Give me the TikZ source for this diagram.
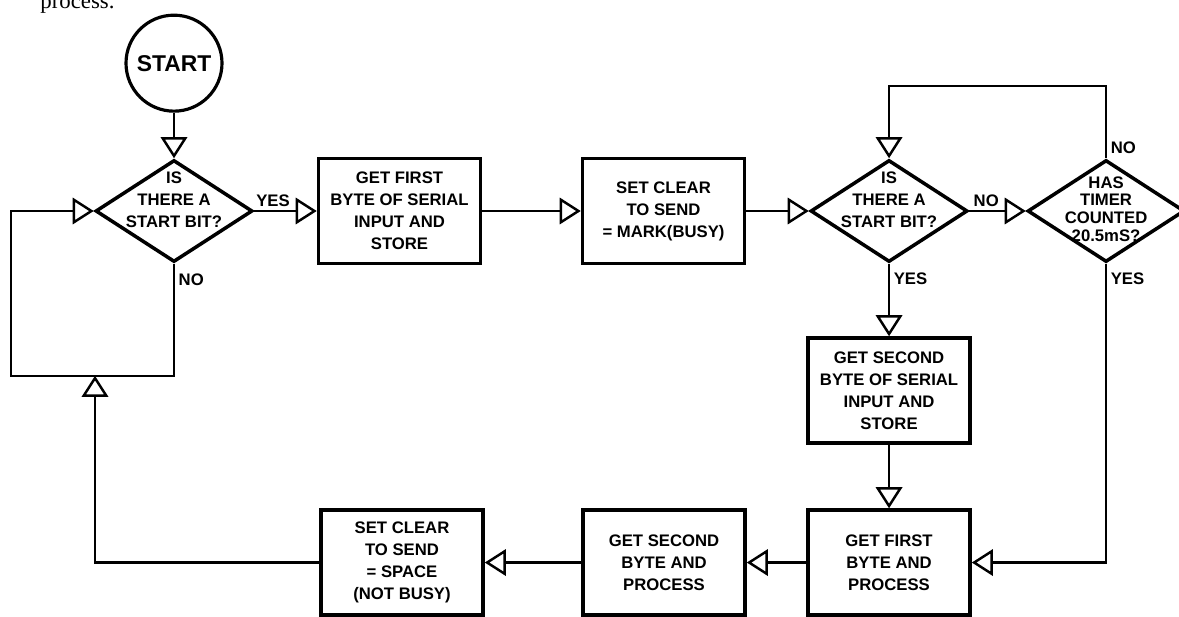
\documentclass[tikz,border=0pt]{standalone}
\usepackage{fontspec}
\setmainfont{Liberation Sans}
\newfontfamily\bodyserif{Liberation Serif}
\usetikzlibrary{shapes.geometric,calc,positioning,arrows.meta}

\begin{document}
\begin{tikzpicture}[
	every node/.style={font=\bfseries\fontsize{9.5}{12.5}\selectfont},
	procbox/.style={draw,rectangle,line width=2pt,minimum width=3.24cm,minimum height=2.1cm,inner sep=0pt,align=center},
	decide/.style={draw,diamond,line width=2pt,minimum width=3.14cm,minimum height=2.04cm,inner sep=0pt},
	terminal/.style={draw,circle,line width=1.8pt,minimum size=1.92cm,inner sep=0pt,font=\bfseries\fontsize{13}{15}\selectfont},
	asktext/.style={align=center,inner sep=0pt},
	answer/.style={inner sep=2pt},
	flow/.style={line width=1.4pt,-{Triangle[open,length=12pt,width=15pt]}}
	]
	
	\useasboundingbox (0,0) rectangle (23.58,-12.32);
	
	\node [anchor=base west,inner sep=0pt,font=\bodyserif\fontsize{13}{15}\selectfont] (page-text) at (0.8,-0.16) {process.};
	
	\coordinate (zero) at (3.48,-4.22);
	
	%%%%%%%%%%%%%%%%%%%%%%%%%%%%%%%%%%%%%%%%%%%%%%%%%%%%%%
	
	\node [decide,label={[asktext,yshift=0.22cm]center:{IS\\THERE A\\START BIT?}}] (ask-1) at (zero) {};
	\node [terminal,above=0.91cm of ask-1] (start) {START};
	
	\node [procbox,right=1.25cm of ask-1] (get-first-serial) {GET FIRST\\BYTE OF SERIAL\\INPUT AND\\STORE};
	\node [procbox,right=1.97cm of get-first-serial] (set-mark) {SET CLEAR\\TO SEND\\= MARK(BUSY)};
	
	\node [decide,right=1.25cm of set-mark,label={[asktext,yshift=0.22cm]center:{IS\\THERE A\\START BIT?}}] (ask-2) {};
	\node [decide,right=1.13cm of ask-2,label={[asktext,yshift=0.04cm,font=\bfseries\fontsize{9.5}{10}\selectfont]center:{HAS\\TIMER\\COUNTED\\20.5mS?}}] (timer-ask) {};
	
	%%%%%%%%%%%%%%%%%%%%%%%%%%%%%%%%%%%%%%%%%%%%%%%%%%%%%%
	
	\node [procbox,below=1.45cm of ask-2] (get-second-serial) {GET SECOND\\BYTE OF SERIAL\\INPUT AND\\STORE};
	\node [procbox,below=1.27cm of get-second-serial] (first-process) {GET FIRST\\BYTE AND\\PROCESS};
	\node [procbox,left=1.19cm of first-process] (second-process) {GET SECOND\\BYTE AND\\PROCESS};
	\node [procbox,left=1.93cm of second-process] (set-space) {SET CLEAR\\TO SEND\\= SPACE\\(NOT BUSY)};
	
	%%%%%%%%%%%%%%%%%%%%%%%%%%%%%%%%%%%%%%%%%%%%%%%%%%%%%%
	
	\draw [flow] (start) -- (ask-1);
	\draw [flow] (ask-1) -- node [pos=0.3,above,answer] {YES} (get-first-serial);
	\draw [flow] (get-first-serial) -- (set-mark);
	\draw [flow] (set-mark) -- (ask-2);
	\draw [flow] (ask-2) -- node [pos=0.3,above,answer] {NO} (timer-ask);
	%
	\draw [flow] (timer-ask.north) -- node [pos=0.14,right,answer] {NO} ++(0,1.44) -| (ask-2.north);
	\draw [flow] (ask-2.south) -- node [pos=0.2,right,answer] {YES} (get-second-serial);
	\draw [flow] (get-second-serial) -- (first-process);
	\draw [flow] (timer-ask.south) |- node [pos=0.025,right,answer] {YES} (first-process.east);
	\draw [flow] (first-process) -- (second-process);
	\draw [flow] (second-process) -- (set-space);
	
	%%%%%%%%%%%%%%%%%%%%%%%%%%%%%%%%%%%%%%%%%%%%%%%%%%%%%%
	
	\coordinate (loop-bottom) at ($(ask-1.south)+(0,-2.24)$);
	\coordinate (loop-join) at ($(loop-bottom)+(-1.58,0)$);
	
	\draw [flow] (ask-1.south) -- node [pos=0.14,right,answer] {NO} (loop-bottom) -| ($(ask-1.west)+(-1.66,0)$) -- (ask-1.west);
	\draw [flow] (set-space.west) -| (loop-join);
	
\end{tikzpicture}
\end{document}
